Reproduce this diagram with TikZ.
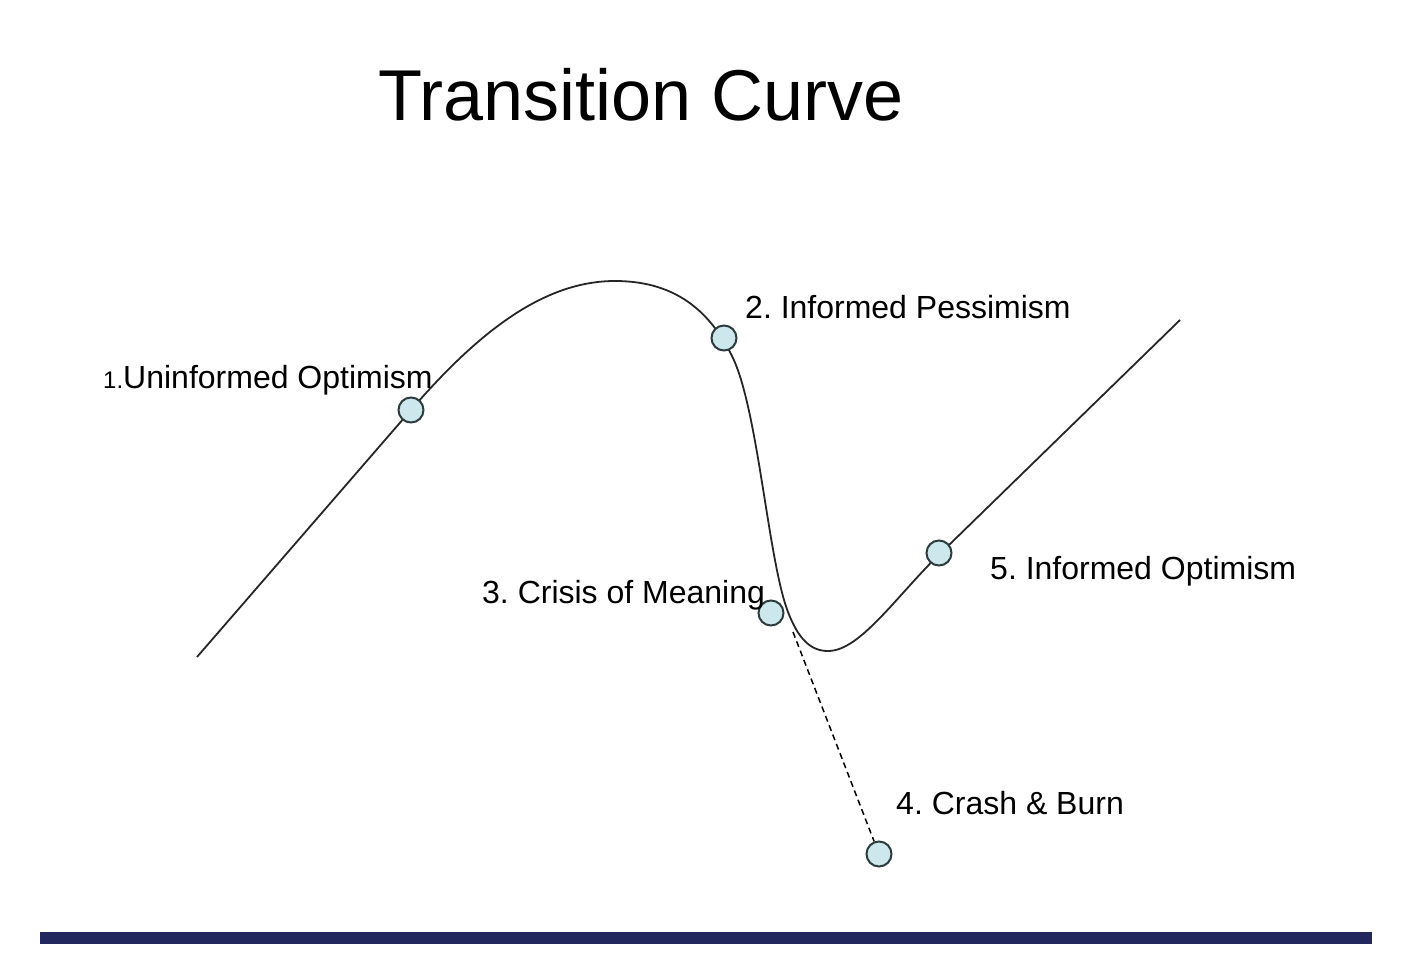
\documentclass[tikz,border=0pt]{standalone}
\usepackage{fontspec}
\setmainfont{Liberation Sans}
\usepackage{xcolor}
\usetikzlibrary{positioning}
\definecolor{dotfill}{RGB}{205,232,236}
\definecolor{dotline}{RGB}{45,60,62}
\definecolor{barblue}{RGB}{34,40,94}
\frenchspacing
\tikzset{
  stage/.style={circle,draw=dotline,fill=dotfill,line width=2pt,minimum size=25pt,inner sep=0pt},
  lbl/.style={anchor=west,inner sep=0pt,font=\fontsize{32}{36}\selectfont},
  curve/.style={line width=1.8pt,black!85}
}
\begin{document}
\begin{tikzpicture}[x=1pt,y=-1pt]
  \useasboundingbox (0,0) rectangle (1424,966);
  % title
  \node[anchor=west,inner sep=0pt,font=\fontsize{72}{80}\selectfont] (title) at (378,95) {Transition Curve};
  % the curve
  \draw[curve] (197,657) -- (411,410)
     .. controls (480,330) and (545,281) .. (615,281)
     .. controls (680,281) and (712,316) .. (732,356)
     .. controls (758,408) and (768,560) .. (788,612)
     .. controls (798,638) and (810,651) .. (828,651)
     .. controls (862,651) and (900,590) .. (950,544)
     -- (1180,320);
  \coordinate (drop) at (793,632);
  % stages
  \node[stage] (s1) at (411,410) {};
  \node[stage] (s2) at (724,338) {};
  \node[stage] (s3) at (771,613) {};
  \node[stage] (s4) at (879,854) {};
  \node[stage] (s5) at (939,553) {};
  \draw[line width=1.5pt,dash pattern=on 6pt off 4pt] (drop) -- (s4);
  % labels
  \node[lbl] (l1) at (103,380) {{\fontsize{24}{28}\selectfont 1.}Uninformed Optimism};
  \node[lbl] (l2) at (745,307) {2. Informed Pessimism};
  \node[lbl] (l3) at (482,595) {3. Crisis of Meaning};
  \node[lbl] (l4) at (896,803) {4. Crash \& Burn};
  \node[lbl] (l5) at (990,571) {5. Informed Optimism};
  % bottom bar
  \fill[barblue] (40,932) rectangle (1372,944);
\end{tikzpicture}
\end{document}
